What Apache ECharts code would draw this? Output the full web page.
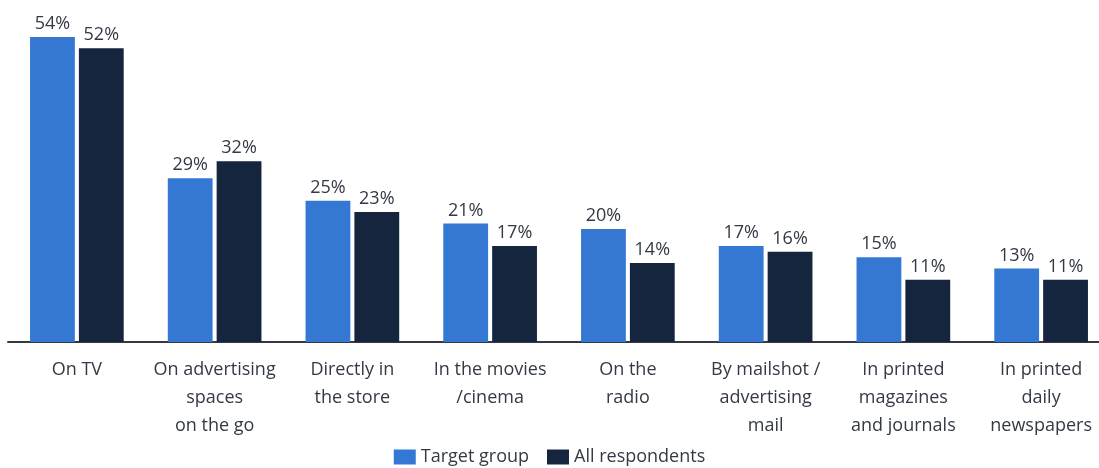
<!DOCTYPE html>
<html>
<head>
<meta charset="utf-8">
<script src="https://cdn.jsdelivr.net/npm/echarts@6/dist/echarts.min.js"></script>
<style>
html,body{margin:0;padding:0;background:#fff;}
#chart{width:1099px;height:468px;}
</style>
</head>
<body>
<div id="chart"></div>
<script>
// Where respondents noticed advertising (share in %)
const categories = [
  'On TV',
  'On advertising\nspaces\non the go',
  'Directly in\nthe store',
  'In the movies\n/cinema',
  'On the\nradio',
  'By mailshot /\nadvertising\nmail',
  'In printed\nmagazines\nand journals',
  'In printed\ndaily\nnewspapers'
];
const targetGroup = [54, 29, 25, 21, 20, 17, 15, 13];
const allRespondents = [52, 32, 23, 17, 14, 16, 11, 11];
const seriesNames = ['Target group', 'All respondents'];

const FONT = '"Open Sans", "Noto Sans", sans-serif';
const TEXT = '#333a45';
const label = {
  show: true,
  position: 'top',
  distance: 4,
  formatter: p => p.value + '%',
  color: TEXT,
  fontFamily: FONT,
  fontSize: 18
};

const chart = echarts.init(document.getElementById('chart'));
chart.setOption({
  animation: false,
  textStyle: { fontFamily: FONT },
  grid: {
    left: 8, width: 1102, top: 37, bottom: 126,
    containLabel: false,
    outerBoundsMode: 'none'
  },
  legend: {
    bottom: -3,
    left: 'center',
    itemWidth: 22,
    itemHeight: 15,
    itemGap: 18,
    icon: 'rect',
    textStyle: { fontFamily: FONT, fontSize: 18, color: TEXT },
    data: seriesNames
  },
  xAxis: {
    type: 'category',
    data: categories,
    axisLine: { lineStyle: { color: TEXT, width: 2 } },
    axisTick: { show: false },
    axisLabel: {
      interval: 0,
      margin: 14,
      color: TEXT,
      fontFamily: FONT,
      fontSize: 18,
      lineHeight: 28
    }
  },
  yAxis: {
    type: 'value',
    min: 0,
    max: 54,
    show: false,
    splitLine: { show: false }
  },
  series: [
    {
      name: seriesNames[0],
      type: 'bar',
      data: targetGroup,
      barCategoryGap: '32%',
      barGap: '9%',
      itemStyle: { color: '#3578d3' },
      label: label
    },
    {
      name: seriesNames[1],
      type: 'bar',
      data: allRespondents,
      itemStyle: { color: '#15253d' },
      label: label
    }
  ]
});
</script>
</body>
</html>
